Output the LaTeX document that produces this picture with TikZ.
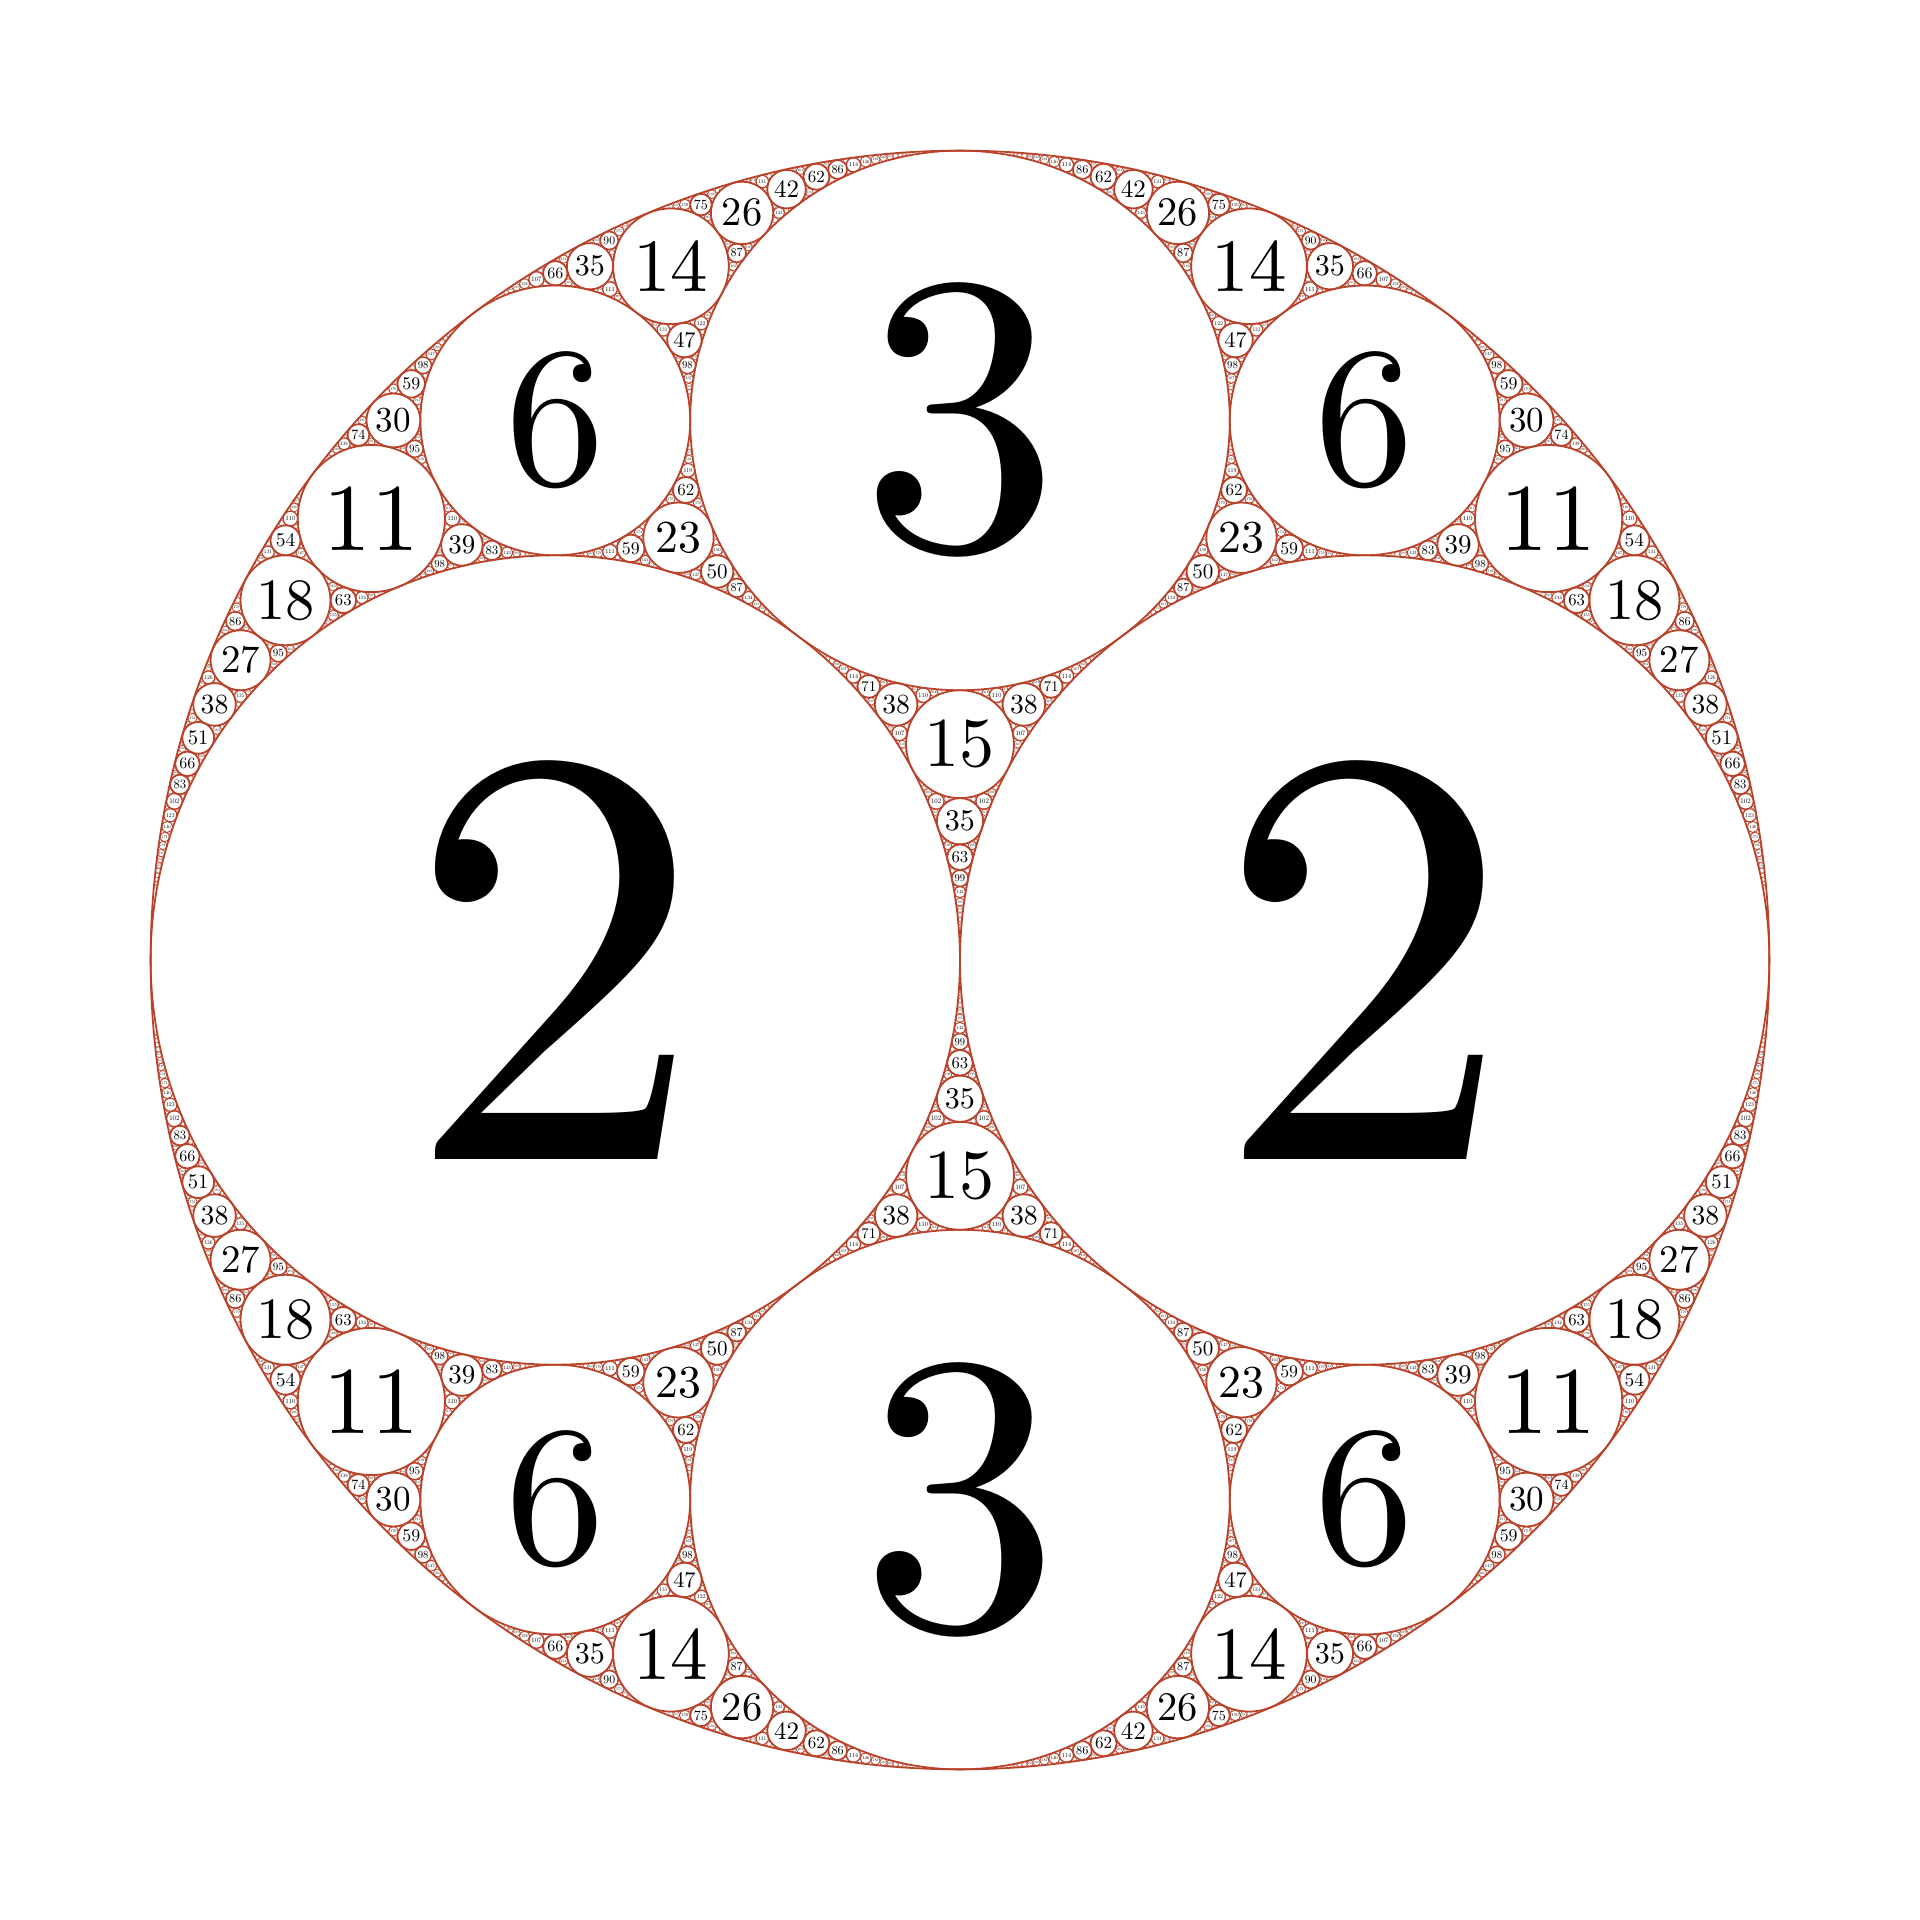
\documentclass[tikz,border=0pt]{standalone}
\usepackage{tikz}
\definecolor{gasket}{RGB}{184,66,42}

% circle data: curvature k and k*x, k*y (all integers)
\def\kof#1,#2,#3\relax{#1}
\def\aof#1,#2,#3\relax{#2}
\def\bof#1,#2,#3\relax{#3}
\def\maxcurv{500}
\def\maxlabel{300}

% one circle with its curvature as label
\newcommand\circlab[3]{%
  \ifnum#1<10 \def\fsz{1.48}\else\ifnum#1<100 \def\fsz{1.3}\else\def\fsz{0.867}\fi\fi
  \pgfmathsetmacro\lw{min(0.5,40/#1)}%
  \draw[gasket, line width=\lw pt] (#2/#1,#3/#1) circle[radius=1/#1];
  \ifnum#1>\maxlabel\relax\else
    \node[scale={22.76*\fsz/#1}, inner sep=0pt] at (#2/#1,#3/#1) {#1};
  \fi
}

% the circle tangent to #1,#2,#3 that is not #4
\newcommand\gap[4]{%
  \begingroup
  \edef\nk{\the\numexpr2*(\kof#1\relax+\kof#2\relax+\kof#3\relax)-(\kof#4\relax)\relax}%
  \ifnum\nk>\maxcurv\relax\else
    \edef\na{\the\numexpr2*(\aof#1\relax+\aof#2\relax+\aof#3\relax)-(\aof#4\relax)\relax}%
    \edef\nb{\the\numexpr2*(\bof#1\relax+\bof#2\relax+\bof#3\relax)-(\bof#4\relax)\relax}%
    \circlab{\nk}{\na}{\nb}%
    \edef\next{\noexpand\fillgap{#1}{#2}{#3}{\nk,\na,\nb}}%
    \next
  \fi
  \endgroup}
\newcommand\fillgap[4]{\gap{#2}{#3}{#4}{#1}\gap{#1}{#3}{#4}{#2}\gap{#1}{#2}{#4}{#3}}

\begin{document}
\begin{tikzpicture}[scale=8]
  \useasboundingbox (-1.1861,-1.1861) rectangle (1.1861,1.1861);

  \draw[gasket, line width=0.5pt] (0,0) circle[radius=1];
  \circlab{2}{-1}{0}
  \circlab{2}{1}{0}
  \circlab{3}{0}{2}
  \circlab{3}{0}{-2}

  \fillgap{-1,0,0}{2,-1,0}{2,1,0}{3,0,2}
  \fillgap{-1,0,0}{2,-1,0}{2,1,0}{3,0,-2}
\end{tikzpicture}
\end{document}
